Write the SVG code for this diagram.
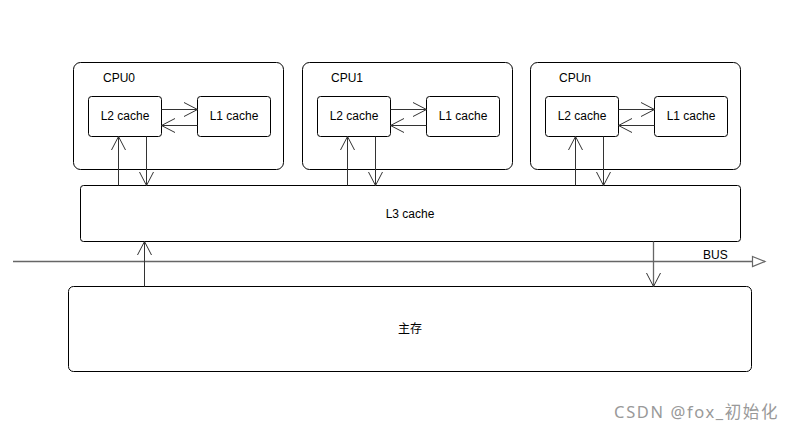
<svg xmlns="http://www.w3.org/2000/svg" width="794" height="433" viewBox="0 0 794 433">
<style>
.box{fill:#fff;stroke:#000;stroke-width:1}
.t{font-family:"Liberation Sans",Arial,sans-serif;font-size:12px;fill:#000;text-anchor:middle;dominant-baseline:central}
.tl{font-family:"Liberation Sans",Arial,sans-serif;font-size:12px;fill:#000}
.c{fill:none;stroke:#333;stroke-width:1}
.cg{fill:none;stroke:#666;stroke-width:1.3}
</style>
<defs>
<marker id="a" markerUnits="userSpaceOnUse" markerWidth="18" markerHeight="18" viewBox="0 0 18 18" refX="15" refY="9" orient="auto">
<path d="M1.5,2 L15,9 L1.5,16" fill="none" stroke="#333" stroke-width="1"/>
</marker>
<marker id="tri" markerUnits="userSpaceOnUse" markerWidth="16" markerHeight="14" viewBox="0 0 16 14" refX="14" refY="7" orient="auto">
<path d="M1.5,2 L14,7 L1.5,12 Z" fill="#fff" stroke="#666" stroke-width="1.2"/>
</marker>
</defs>
<rect width="794" height="433" fill="#fff"/>
<g id="cpu0">
<rect class="box" x="73.5" y="62.5" width="210" height="107" rx="7"/>
<text class="tl" x="103" y="82">CPU0</text>
</g>
<g id="cpu0-l2"><rect class="box" x="88.5" y="96.5" width="73" height="40" rx="3"/><text class="t" x="125" y="116">L2 cache</text></g>
<g id="cpu0-l1"><rect class="box" x="197.5" y="96.5" width="73" height="40" rx="3"/><text class="t" x="234" y="116">L1 cache</text></g>
<g id="cpu1">
<rect class="box" x="302.5" y="62.5" width="210" height="107" rx="7"/>
<text class="tl" x="331" y="82">CPU1</text>
</g>
<g id="cpu1-l2"><rect class="box" x="317.5" y="96.5" width="73" height="40" rx="3"/><text class="t" x="354" y="116">L2 cache</text></g>
<g id="cpu1-l1"><rect class="box" x="426.5" y="96.5" width="73" height="40" rx="3"/><text class="t" x="463" y="116">L1 cache</text></g>
<g id="cpun">
<rect class="box" x="530.5" y="62.5" width="210" height="107" rx="7"/>
<text class="tl" x="559" y="82">CPUn</text>
</g>
<g id="cpun-l2"><rect class="box" x="545.5" y="96.5" width="73" height="40" rx="3"/><text class="t" x="582" y="116">L2 cache</text></g>
<g id="cpun-l1"><rect class="box" x="654.5" y="96.5" width="73" height="40" rx="3"/><text class="t" x="691" y="116">L1 cache</text></g>
<g id="l3"><rect class="box" x="80.5" y="185.5" width="660" height="56" rx="3"/><text class="t" x="410" y="214">L3 cache</text></g>
<g id="mem"><rect class="box" x="68.5" y="286.5" width="683" height="85" rx="5"/><text class="t" x="410" y="329" style="font-family:'Liberation Sans','Noto Sans CJK SC',sans-serif">主存</text></g>
<g id="connectors">
<line class="c" x1="161.5" y1="109.5" x2="197.5" y2="109.5" marker-end="url(#a)"/>
<line class="c" x1="197.5" y1="125.5" x2="161.5" y2="125.5" marker-end="url(#a)"/>
<line class="c" x1="390.5" y1="109.5" x2="426.5" y2="109.5" marker-end="url(#a)"/>
<line class="c" x1="426.5" y1="125.5" x2="390.5" y2="125.5" marker-end="url(#a)"/>
<line class="c" x1="618.5" y1="109.5" x2="654.5" y2="109.5" marker-end="url(#a)"/>
<line class="c" x1="654.5" y1="125.5" x2="618.5" y2="125.5" marker-end="url(#a)"/>
<line class="c" x1="118.5" y1="185.5" x2="118.5" y2="136.5" marker-end="url(#a)"/>
<line class="c" x1="146.5" y1="136.5" x2="146.5" y2="185.5" marker-end="url(#a)"/>
<line class="c" x1="347.5" y1="185.5" x2="347.5" y2="136.5" marker-end="url(#a)"/>
<line class="c" x1="375.5" y1="136.5" x2="375.5" y2="185.5" marker-end="url(#a)"/>
<line class="c" x1="575.5" y1="185.5" x2="575.5" y2="136.5" marker-end="url(#a)"/>
<line class="c" x1="603.5" y1="136.5" x2="603.5" y2="185.5" marker-end="url(#a)"/>
<line class="cg" x1="13" y1="261.5" x2="765" y2="261.5" marker-end="url(#tri)"/>
<line class="c" x1="144.5" y1="286.5" x2="144.5" y2="241.5" marker-end="url(#a)"/>
<line class="cg" x1="653.5" y1="241.5" x2="653.5" y2="286.5" marker-end="url(#a)"/>
</g>
<text class="tl" x="703" y="259">BUS</text>
<text x="779" y="418" style="font-family:'Noto Sans','Noto Sans CJK SC',sans-serif;font-size:16.5px;letter-spacing:1.6px;fill:#999;text-anchor:end">CSDN @fox_初始化</text>
</svg>
